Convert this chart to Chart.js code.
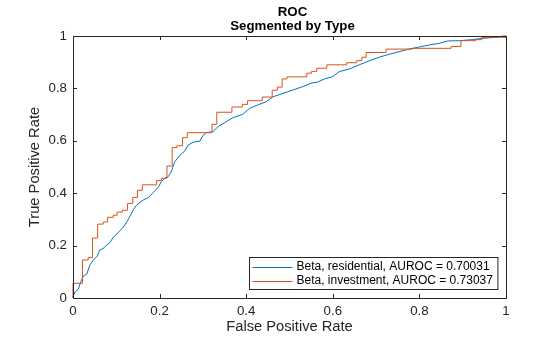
<!DOCTYPE html>
<html>
<head>
<meta charset="utf-8">
<script src="https://cdn.jsdelivr.net/npm/chart.js@4"></script>
<style>
  html, body { margin: 0; padding: 0; background: #fff; }
  #wrap { width: 560px; height: 337px; }
</style>
</head>
<body>
<div id="wrap"><canvas id="rocChart"></canvas></div>
<script>
// ROC curves, one per property type (false positive rate, true positive rate)
var residentialFpr = [0, 0, 0.005, 0.012, 0.018, 0.024, 0.032, 0.039, 0.047, 0.056, 0.062, 0.070,
  0.078, 0.085, 0.093, 0.104, 0.116, 0.127, 0.139, 0.147, 0.162, 0.174, 0.185, 0.197, 0.204,
  0.212, 0.220, 0.227, 0.235, 0.247, 0.258, 0.266, 0.277, 0.293, 0.300, 0.308, 0.323, 0.335,
  0.354, 0.369, 0.392, 0.408, 0.427, 0.446, 0.462, 0.485, 0.508, 0.531, 0.550, 0.565, 0.581,
  0.600, 0.615, 0.638, 0.661, 0.684, 0.707, 0.730, 0.753, 0.776, 0.800, 0.823, 0.846, 0.865,
  0.892, 0.922, 0.945, 0.976, 0.995, 1];
var residentialTpr = [0, 0.005, 0.024, 0.033, 0.062, 0.084, 0.092, 0.126, 0.145, 0.160, 0.183, 0.190,
  0.202, 0.211, 0.232, 0.249, 0.270, 0.298, 0.336, 0.355, 0.374, 0.383, 0.402, 0.423, 0.444,
  0.457, 0.463, 0.482, 0.520, 0.545, 0.561, 0.584, 0.594, 0.599, 0.620, 0.631, 0.635, 0.654,
  0.673, 0.688, 0.701, 0.724, 0.737, 0.749, 0.768, 0.781, 0.794, 0.807, 0.820, 0.824, 0.836,
  0.845, 0.864, 0.874, 0.890, 0.905, 0.919, 0.930, 0.940, 0.950, 0.958, 0.966, 0.972, 0.981,
  0.982, 0.986, 0.991, 0.995, 1, 1];

// investment curve: at each fpr the rate jumps up to the matching tpr
var investmentFpr = [0, 0, 0.022, 0.035, 0.045, 0.057, 0.070, 0.080, 0.093, 0.102, 0.114, 0.126,
  0.138, 0.149, 0.160, 0.193, 0.204, 0.217, 0.229, 0.240, 0.253, 0.264, 0.321, 0.332, 0.367,
  0.391, 0.403, 0.437, 0.460, 0.472, 0.483, 0.494, 0.540, 0.551, 0.563, 0.586, 0.632, 0.655,
  0.667, 0.677, 0.723, 0.783, 0.873, 0.896, 0.930, 0.944, 1];
var investmentTpr = [0, 0.056, 0.145, 0.154, 0.229, 0.282, 0.290, 0.308, 0.316, 0.328, 0.335, 0.361,
  0.384, 0.411, 0.432, 0.448, 0.457, 0.504, 0.574, 0.581, 0.612, 0.631, 0.663, 0.709, 0.729,
  0.739, 0.753, 0.767, 0.793, 0.805, 0.836, 0.844, 0.858, 0.865, 0.877, 0.890, 0.898, 0.906,
  0.919, 0.937, 0.950, 0.953, 0.960, 0.982, 0.986, 0.995, 1];

var seriesLabels = ['Beta, residential, AUROC = 0.70031', 'Beta, investment, AUROC = 0.73037'];
var tickValues = [0, 0.2, 0.4, 0.6, 0.8, 1];
var tickLabels = ['0', '0.2', '0.4', '0.6', '0.8', '1'];
var titleLines = ['ROC', 'Segmented by Type'];

var AXIS_COLOR = '#262626';
var FONT = '"Liberation Sans", Arial, Helvetica, sans-serif';

function toPoints(xs, ys) {
  return xs.map((x, i) => ({ x: x, y: ys[i] }));
}

// box around the axes with inward ticks on all four sides, title and legend
var axesDecor = {
  id: 'axesDecor',
  afterDatasetsDraw(chart) {
    var ctx = chart.ctx;
    var a = chart.chartArea;
    var xs = chart.scales.x, ys = chart.scales.y;
    var tl = 4;
    ctx.save();
    ctx.strokeStyle = AXIS_COLOR;
    ctx.lineWidth = 1;
    ctx.beginPath();
    tickValues.forEach(v => {
      var px = Math.round(xs.getPixelForValue(v)) + 0.5;
      ctx.moveTo(px, a.bottom); ctx.lineTo(px, a.bottom - tl);
      ctx.moveTo(px, a.top); ctx.lineTo(px, a.top + tl);
      var py = Math.round(ys.getPixelForValue(v)) + 0.5;
      ctx.moveTo(a.left, py); ctx.lineTo(a.left + tl, py);
      ctx.moveTo(a.right, py); ctx.lineTo(a.right - tl, py);
    });
    ctx.stroke();
    ctx.strokeRect(Math.round(a.left) + 0.5, Math.round(a.top) + 0.5,
                   Math.round(a.right - a.left), Math.round(a.bottom - a.top));

    // legend, lower right inside the axes
    ctx.font = '12px ' + FONT;
    var textW = Math.max.apply(null, chart.data.datasets.map(d => ctx.measureText(d.label).width));
    var rowH = 14;
    var boxW = 3 + 40 + 4 + textW + 5;
    var boxH = rowH * chart.data.datasets.length + 4;
    var bx = Math.round(a.right - 9 - boxW) + 0.5;
    var by = Math.round(a.bottom - 9 - boxH) + 0.5;
    ctx.fillStyle = '#fff';
    ctx.fillRect(bx, by, boxW, boxH);
    ctx.strokeStyle = AXIS_COLOR;
    ctx.strokeRect(bx, by, boxW, boxH);
    ctx.textBaseline = 'middle';
    ctx.textAlign = 'left';
    chart.data.datasets.forEach((d, i) => {
      var cy = by + 2 + rowH * i + rowH / 2;
      ctx.strokeStyle = d.borderColor;
      ctx.beginPath();
      ctx.moveTo(bx + 3, Math.round(cy) + 0.5);
      ctx.lineTo(bx + 43, Math.round(cy) + 0.5);
      ctx.stroke();
      ctx.fillStyle = '#000';
      ctx.fillText(d.label, bx + 47, cy + 0.5);
    });

    // two-line bold title above the axes
    ctx.fillStyle = '#000';
    ctx.font = 'bold 13.3px ' + FONT;
    ctx.textAlign = 'center';
    ctx.textBaseline = 'alphabetic';
    var cx = (a.left + a.right) / 2 + 3;
    titleLines.forEach((t, i) => ctx.fillText(t, cx, 16 + i * 13.6));
    ctx.restore();
  }
};

var axisTicks = {
  color: AXIS_COLOR,
  font: { family: FONT, size: 13.3 },
  stepSize: 0.2,
  autoSkip: false,
  maxRotation: 0,
  callback: (v, i) => tickLabels[i]
};

var CHART = new Chart(document.getElementById('rocChart'), {
  type: 'line',
  data: {
    datasets: [
      { label: seriesLabels[0], data: toPoints(residentialFpr, residentialTpr),
        borderColor: '#0072BD', borderWidth: 1, pointRadius: 0, tension: 0,
        fill: false, order: 1, clip: 2 },
      { label: seriesLabels[1], data: toPoints(investmentFpr, investmentTpr),
        borderColor: '#D95319', borderWidth: 1, pointRadius: 0, stepped: 'before',
        fill: false, order: 0, clip: 2 }
    ]
  },
  options: {
    responsive: true,
    maintainAspectRatio: false,
    animation: false,
    layout: { padding: { top: 36, right: 54, left: 0, bottom: 0 } },
    plugins: {
      legend: { display: false },
      title: { display: false },
      tooltip: { enabled: false }
    },
    scales: {
      x: {
        type: 'linear', min: 0, max: 1,
        grid: { display: false, drawTicks: false },
        border: { display: false },
        ticks: Object.assign({ padding: 5 }, axisTicks),
        afterFit: s => { s.height = 39; },
        title: { display: true, text: 'False Positive Rate', color: AXIS_COLOR,
                 font: { family: FONT, size: 14.7 }, padding: { top: 0, bottom: 1.5 } }
      },
      y: {
        type: 'linear', min: 0, max: 1,
        grid: { display: false, drawTicks: false },
        border: { display: false },
        ticks: Object.assign({ padding: 6 }, axisTicks),
        afterFit: s => { s.width = 73; },
        title: { display: true, text: 'True Positive Rate', color: AXIS_COLOR,
                 font: { family: FONT, size: 14.7 }, padding: { top: 26.5, bottom: 0 } }
      }
    }
  },
  plugins: [axesDecor]
});
</script>
</body>
</html>
